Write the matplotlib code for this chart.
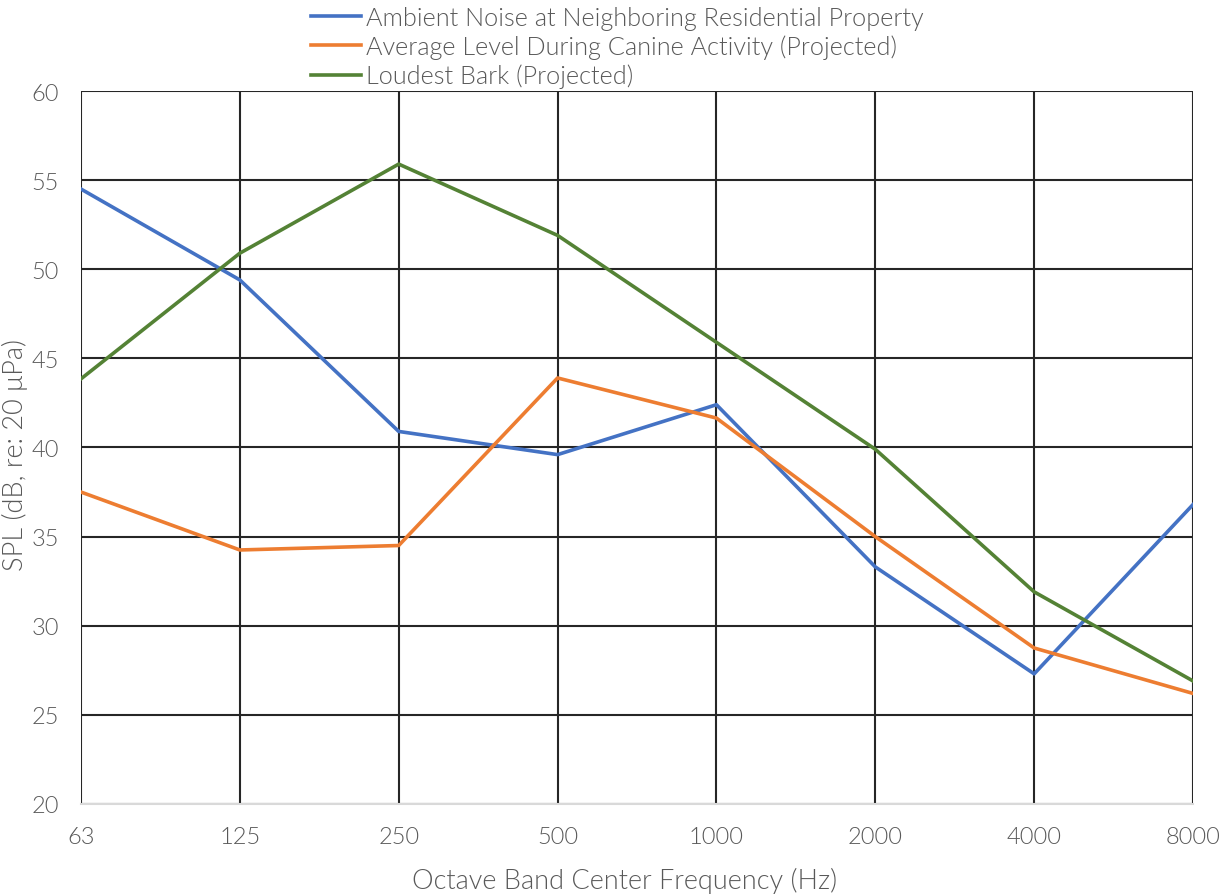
import matplotlib
matplotlib.use('Agg')
import matplotlib.pyplot as plt

FREQS = ['63', '125', '250', '500', '1000', '2000', '4000', '8000']
AMBIENT = [54.5, 49.4, 40.9, 39.6, 42.4, 33.3, 27.3, 36.8]
AVERAGE = [37.5, 34.25, 34.5, 43.9, 41.65, 35.0, 28.75, 26.2]
LOUDEST = [43.85, 50.9, 55.9, 51.9, 45.9, 39.9, 31.9, 26.9]

SERIES = [
    ('Ambient Noise at Neighboring Residential Property', AMBIENT, '#4472C4'),
    ('Average Level During Canine Activity (Projected)', AVERAGE, '#ED7D31'),
    ('Loudest Bark (Projected)', LOUDEST, '#548235'),
]

TEXT = '#595959'
plt.rcParams['font.family'] = ['Lato', 'DejaVu Sans']
plt.rcParams['font.weight'] = 300

fig = plt.figure(figsize=(12.25, 8.95), dpi=100)
ax = fig.add_axes([0.0661, 0.1006, 0.9078, 0.7966])

x = list(range(len(FREQS)))
for label, vals, color in SERIES:
    ax.plot(x, vals, color=color, linewidth=2.6, label=label)

ax.set_xlim(0, len(FREQS) - 1)
ax.set_ylim(20, 60)
ax.set_xticks(x)
ax.set_xticklabels(FREQS)
ax.set_yticks(range(20, 61, 5))
ax.grid(True, color='#262626', linewidth=1.5)
ax.set_axisbelow(True)
for side in ['top', 'right', 'left']:
    ax.spines[side].set_visible(False)
ax.spines['bottom'].set_color('#D9D9D9')
ax.spines['bottom'].set_linewidth(1.5)
ax.tick_params(length=0, labelsize=17, colors=TEXT)
ax.tick_params(axis='x', pad=16)
ax.tick_params(axis='y', pad=16)

fig.text(0.510, 0.0156, 'Octave Band Center Frequency (Hz)', fontsize=19.5,
         color=TEXT, ha='center', va='center')
fig.text(0.0125, 0.4916, 'SPL (dB, re: 20 μPa)', fontsize=19.5, color=TEXT,
         ha='center', va='center', rotation=90)

fig.legend(loc='upper left', bbox_to_anchor=(0.2355, 1.0175), frameon=False,
           fontsize=18.2, handlelength=1.95, handletextpad=0.2,
           labelspacing=0.18, labelcolor=TEXT)

fig.savefig('out.png', dpi=100)
